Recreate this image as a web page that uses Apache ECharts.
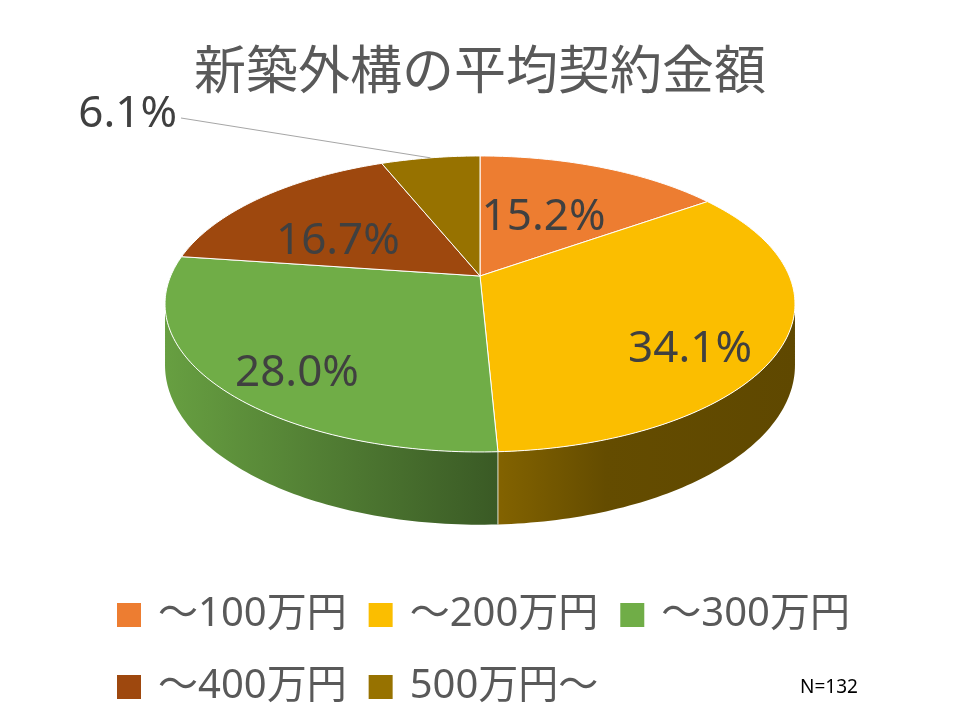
<!DOCTYPE html>
<html>
<head>
<meta charset="utf-8">
<script src="https://cdn.jsdelivr.net/npm/echarts@6/dist/echarts.min.js"></script>
<style>html,body{margin:0;padding:0;background:#fff}#chart{width:960px;height:720px}</style>
</head>
<body>
<div id="chart"></div>
<script>
// ---- data ----
const titleText = '新築外構の平均契約金額';
const categories = ['～100万円', '～200万円', '～300万円', '～400万円', '500万円～'];
const percents = [15.2, 34.1, 28.0, 16.7, 6.1];
const sampleSize = 132;

// ---- styles / layout ----
const colors = ['#ED7D31', '#FBBE00', '#70AD47', '#9E480E', '#977200'];
const labelOffsets = [[-2, 0], [65, 41], [-61, 46], [-27, 7], null]; // px nudges from anchor
const outsideLabel = { x: 177, y: 114, lineStartX: 181, lineStartY: 118 };
const CX = 480, CY = 276, A = 309.3, B = 142.7, K = 0.189, D = 59;
const LEFT_X = 165, RIGHT_X = 795;

const total = percents.reduce((a, b) => a + b, 0);
const starts = [];
{
  let acc = 0;
  percents.forEach(v => { starts.push(acc / total * Math.PI * 2); acc += v; });
}
function proj(theta, r, drop) {
  const u = r * Math.sin(theta), v = r * Math.cos(theta);
  const d = 1 + K * Math.cos(theta) * (drop ? 1 : r);
  const dd = 1 + K * v;
  return [CX + A * u / dd, CY - B * v / dd + (drop ? D / d : 0)];
}
function shade(hex, f) {
  const n = parseInt(hex.slice(1), 16);
  const r = Math.round(((n >> 16) & 255) * f), g = Math.round(((n >> 8) & 255) * f), b = Math.round((n & 255) * f);
  return 'rgb(' + r + ',' + g + ',' + b + ')';
}
const visL = Math.acos(-K);
const visR = 2 * Math.PI - Math.acos(-K);

function makeRender(i) {
  return function (params, api) {
    const a0 = starts[i];
    const a1 = starts[i] + percents[i] / total * Math.PI * 2;
    const children = [];
    const w0 = Math.max(a0, visL), w1 = Math.min(a1, visR);
    if (w1 > w0) {
      const top = [], bot = [];
      const n = Math.max(2, Math.ceil((w1 - w0) / (Math.PI / 180)));
      for (let s = 0; s <= n; s++) {
        const t = w0 + (w1 - w0) * s / n;
        top.push(proj(t, 1, false));
        bot.push(proj(t, 1, true));
      }
      const pts = top.concat(bot.reverse());
      const base = colors[i];
      const grad = new echarts.graphic.LinearGradient(LEFT_X, 0, RIGHT_X, 0, [
        { offset: 0, color: shade(base, 0.92) },
        { offset: 0.527, color: shade(base, 0.52) },
        { offset: 0.7, color: shade(base, 0.40) },
        { offset: 1, color: shade(base, 0.38) }
      ], true);
      children.push({ type: 'polygon', z2: 1, shape: { points: pts }, style: { fill: grad, stroke: null } });
      if (a0 > visL && a0 < visR) {
        const p = proj(a0, 1, false), q = proj(a0, 1, true);
        children.push({ type: 'line', z2: 2, shape: { x1: p[0], y1: p[1], x2: q[0], y2: q[1] }, style: { stroke: 'rgba(255,255,255,0.8)', lineWidth: 1 } });
      }
    }
    const face = [proj(0, 0, false)];
    const m = Math.max(2, Math.ceil((a1 - a0) / (Math.PI / 180)));
    for (let s = 0; s <= m; s++) face.push(proj(a0 + (a1 - a0) * s / m, 1, false));
    children.push({ type: 'polygon', z2: 5, shape: { points: face }, style: { fill: colors[i], stroke: '#ffffff', lineWidth: 1, lineJoin: 'round' } });
    const mid = (a0 + a1) / 2;
    const txt = percents[i].toFixed(1) + '%';
    const font = '44px "Noto Sans", "DejaVu Sans", sans-serif';
    if (labelOffsets[i]) {
      const p = proj(mid, 0.5, false);
      children.push({ type: 'text', z2: 10, x: p[0] + labelOffsets[i][0], y: p[1] + labelOffsets[i][1],
        style: { text: txt, fill: '#404040', font: font, align: 'center', verticalAlign: 'middle' } });
    } else {
      const e = proj(mid, 1, false);
      children.push({ type: 'line', z2: 9, shape: { x1: outsideLabel.lineStartX, y1: outsideLabel.lineStartY, x2: e[0], y2: e[1] },
        style: { stroke: '#A6A6A6', lineWidth: 1 } });
      children.push({ type: 'text', z2: 10, x: outsideLabel.x, y: outsideLabel.y,
        style: { text: txt, fill: '#404040', font: font, align: 'right', verticalAlign: 'middle' } });
    }
    return { type: 'group', children: children };
  };
}

const chart = echarts.init(document.getElementById('chart'), null, { renderer: 'canvas' });
chart.setOption({
  backgroundColor: '#ffffff',
  animation: false,
  title: {
    text: titleText, left: 'center', top: 38,
    textStyle: { fontSize: 52, color: '#595959', fontWeight: 'normal', fontFamily: '"Noto Sans CJK JP", sans-serif' }
  },
  legend: {
    data: categories, left: 112, top: 585, width: 790,
    icon: 'rect', itemWidth: 24, itemHeight: 24, itemGap: 22,
    textStyle: { fontSize: 40, color: '#595959', fontFamily: '"Noto Sans", "Noto Sans CJK JP", sans-serif',
      padding: [0, 0, 0, 12], lineHeight: 50 }
  },
  graphic: [{
    type: 'text', left: 800, top: 678,
    style: { text: 'N=' + sampleSize, fontSize: 19, fill: '#000000', fontFamily: '"Noto Sans", sans-serif' }
  }],
  series: categories.map((c, i) => ({
    type: 'custom', name: c, coordinateSystem: 'none',
    itemStyle: { color: colors[i] },
    data: [percents[i]],
    renderItem: makeRender(i)
  }))
});
</script>
</body>
</html>
